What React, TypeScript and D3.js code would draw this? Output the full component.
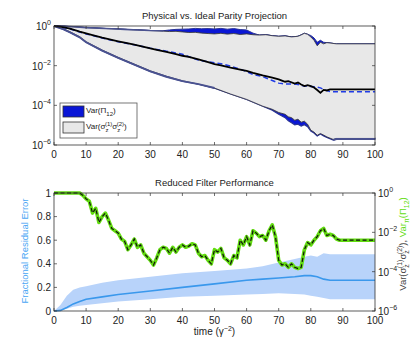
import React from "react";
import * as d3 from "d3";

// ---- top panel: log10 of the variances ----
const upperTime = [0, 3, 6, 10, 14, 18, 22, 26, 30, 34, 36, 38, 40, 42, 44, 46, 48, 50, 52, 54, 56, 58, 60, 62, 64, 66, 68, 70, 72, 74, 76, 77, 78, 79, 80, 81, 82, 83, 84, 85, 86, 88, 100];
const physUpper = [0, -0.01, -0.04, -0.08, -0.11, -0.14, -0.17, -0.2, -0.23, -0.26, -0.28, -0.27, -0.3, -0.33, -0.32, -0.36, -0.38, -0.4, -0.37, -0.41, -0.38, -0.43, -0.4, -0.44, -0.46, -0.44, -0.49, -0.52, -0.5, -0.55, -0.52, -0.45, -0.37, -0.42, -0.55, -0.72, -1.0, -0.82, -0.9, -0.84, -0.86, -0.9, -0.9];
const idealUpper = [0, -0.01, -0.04, -0.08, -0.11, -0.14, -0.17, -0.2, -0.23, -0.24, -0.2, -0.17, -0.16, -0.15, -0.12, -0.14, -0.13, -0.15, -0.12, -0.16, -0.13, -0.18, -0.2, -0.36, -0.46, -0.44, -0.49, -0.52, -0.5, -0.55, -0.52, -0.45, -0.37, -0.42, -0.48, -0.6, -0.82, -0.72, -0.82, -0.84, -0.86, -0.9, -0.9];

const lowerTime = [0, 3, 5, 8, 10, 15, 20, 25, 30, 35, 40, 45, 50, 55, 60, 65, 68, 70, 72, 73, 74, 75, 76, 77, 78, 79, 80, 81, 82, 83, 84, 85, 87, 88, 100];
const physLower = [0, -0.15, -0.29, -0.54, -0.79, -1.21, -1.58, -1.92, -2.26, -2.53, -2.76, -2.93, -3.13, -3.43, -3.7, -4.04, -4.2, -4.36, -4.45, -4.58, -4.62, -4.75, -4.7, -4.85, -4.8, -4.95, -5.25, -5.35, -5.51, -5.42, -5.5, -5.59, -5.72, -5.67, -5.67];
const idealLower = [0, -0.17, -0.32, -0.57, -0.82, -1.24, -1.61, -1.95, -2.29, -2.56, -2.78, -2.93, -3.13, -3.43, -3.7, -4.04, -4.25, -4.45, -4.62, -4.78, -4.88, -4.98, -4.95, -5.05, -4.98, -5.08, -5.3, -5.4, -5.55, -5.45, -5.55, -5.62, -5.75, -5.7, -5.7];

const meanTime = [0, 2, 5, 8, 10, 12, 15, 18, 20, 22, 25, 28, 30, 32, 35, 38, 40, 42, 45, 48, 50, 52, 55, 58, 60, 62, 65, 68, 70, 71, 72, 73, 75, 76, 77, 78, 79, 80, 81, 82, 83, 84, 85, 86, 88, 100];
const physMean = [0, -0.03, -0.13, -0.28, -0.37, -0.46, -0.59, -0.7, -0.77, -0.84, -0.94, -1.05, -1.13, -1.2, -1.3, -1.42, -1.5, -1.56, -1.68, -1.82, -1.92, -1.98, -2.1, -2.2, -2.26, -2.36, -2.49, -2.6, -2.69, -2.75, -2.81, -2.78, -2.9, -2.85, -2.95, -3.03, -2.98, -3.03, -3.1, -3.23, -3.37, -3.22, -3.25, -3.2, -3.2, -3.2];
const idealMean = [0, -0.03, -0.15, -0.3, -0.4, -0.48, -0.6, -0.72, -0.8, -0.86, -0.95, -1.05, -1.12, -1.18, -1.27, -1.36, -1.42, -1.55, -1.72, -1.8, -1.85, -1.9, -2.02, -2.18, -2.3, -2.45, -2.55, -2.75, -2.88, -2.9, -2.92, -2.93, -2.93, -2.95, -3.0, -3.03, -3.04, -3.05, -3.06, -3.08, -3.12, -3.2, -3.26, -3.3, -3.32, -3.32];

// ---- bottom panel ----
const varTime = [0, 8, 9, 10, 11, 12, 13, 14, 15, 16, 17, 18, 19, 20, 21, 22, 23, 24, 25, 26, 27, 28, 29, 30, 31, 32, 33, 34, 35, 36, 37, 38, 39, 40, 41, 42, 43, 44, 45, 46, 47, 48, 49, 50, 51, 52, 53, 54, 55, 56, 57, 58, 59, 60, 61, 62, 63, 64, 65, 66, 67, 68, 69, 70, 71, 72, 73, 74, 75, 76, 77, 78, 79, 80, 81, 82, 83, 84, 85, 86, 87, 88, 89, 100];
// log10 of the reduced-filter variance (right axis)
const varExp = [0, 0, -0.12, -0.3, -0.42, -1.02, -0.78, -1.5, -1.2, -1.02, -1.38, -1.8, -1.92, -2.04, -2.34, -2.46, -2.88, -2.64, -2.34, -2.76, -2.64, -3.06, -3.24, -3.42, -3.66, -3.3, -2.88, -2.76, -2.82, -3.06, -2.76, -3.0, -2.76, -2.64, -2.76, -2.7, -2.58, -2.64, -3.06, -3.24, -3.18, -3.42, -3.6, -2.88, -3.0, -2.82, -3.3, -3.42, -3.6, -3.18, -3.3, -2.4, -2.64, -2.22, -2.64, -1.92, -2.04, -2.22, -2.16, -2.4, -1.92, -1.62, -2.22, -3.42, -3.66, -3.6, -3.78, -3.6, -3.78, -3.84, -3.78, -2.88, -2.52, -2.64, -2.4, -2.22, -1.92, -1.8, -2.16, -2.1, -2.16, -2.34, -2.4, -2.4];

const errTime = [0, 2, 4, 6, 8, 10, 15, 20, 30, 40, 50, 60, 65, 70, 75, 78, 80, 82, 84, 86, 90, 100];
const errMean = [0, 0.005, 0.03, 0.06, 0.08, 0.1, 0.12, 0.14, 0.17, 0.2, 0.23, 0.26, 0.27, 0.28, 0.29, 0.3, 0.3, 0.29, 0.27, 0.26, 0.26, 0.26];
const errHigh = [0, 0.05, 0.13, 0.18, 0.2, 0.21, 0.24, 0.26, 0.29, 0.32, 0.34, 0.36, 0.38, 0.41, 0.44, 0.46, 0.47, 0.46, 0.49, 0.48, 0.48, 0.48];
const errLow = [0, 0.005, 0.02, 0.035, 0.045, 0.05, 0.065, 0.08, 0.1, 0.12, 0.13, 0.14, 0.145, 0.15, 0.145, 0.14, 0.13, 0.12, 0.11, 0.1, 0.1, 0.1];

const xTicks = [0, 10, 20, 30, 40, 50, 60, 70, 80, 90, 100];
const logTicks = [0, -2, -4, -6];
const errTicks = [0, 0.2, 0.4, 0.6, 0.8, 1];

const FONT = "'Liberation Sans', Arial, Helvetica, sans-serif";
const X0 = 54, X1 = 375;

const Pow = ({ e, x, y, anchor }: { e: number; x: number; y: number; anchor: string }) => (
  <text x={x} y={y} textAnchor={anchor} fontSize={10} fill="#222">
    10<tspan dy={-5} fontSize={7}>{e === 0 ? "0" : "\u2212" + Math.abs(e)}</tspan>
  </text>
);

export default function App() {
  const x = d3.scaleLinear().domain([0, 100]).range([X0, X1]);
  const yTop = d3.scaleLog().domain([1e-6, 1]).range([145, 26]);
  const yErr = d3.scaleLinear().domain([0, 1]).range([311, 193]);
  const yVar = d3.scaleLog().domain([1e-6, 1]).range([311, 193]);
  const p10 = (e: number) => Math.pow(10, e);

  const logBand = (t: number[], lo: number[], hi: number[]) =>
    d3.area<number>().x((d) => x(d)).y0((_, i) => yTop(p10(lo[i]))).y1((_, i) => yTop(p10(hi[i])))(t) || "";
  const logLine = (t: number[], v: number[], y: d3.ScaleLogarithmic<number, number>) =>
    d3.line<number>().x((d) => x(d)).y((_, i) => y(p10(v[i])))(t) || "";
  const topEdge = (t: number[], v: number[]) => logLine(t, v, yTop);

  const errBand = d3.area<number>().x((d) => x(d)).y0((_, i) => yErr(errLow[i])).y1((_, i) => yErr(errHigh[i]))(errTime) || "";
  const errLine = d3.line<number>().x((d) => x(d)).y((_, i) => yErr(errMean[i]))(errTime) || "";
  const varLine = logLine(varTime, varExp, yVar);

  // gray physical band: upper edge forward, lower edge back
  const grayBand =
    topEdge(upperTime, physUpper) +
    "L" +
    topEdge(lowerTime.slice().reverse(), physLower.slice().reverse()).slice(1) +
    "Z";

  const frame = (y0: number, y1: number) => (
    <rect x={X0} y={y0} width={X1 - X0} height={y1 - y0} fill="none" stroke="#333" strokeWidth={0.8} />
  );

  return (
    <svg width={415} height={350} style={{ position: "absolute", left: 0, top: 0, background: "#fff" }} fontFamily={FONT}>
      {/* ---------- top panel ---------- */}
      <text x={214.5} y={19} textAnchor="middle" fontSize={9.5} fill="#222">Physical vs. Ideal Parity Projection</text>
      <path d={logBand(upperTime, physUpper, idealUpper)} fill="#0a16d6" stroke="#2a3496" strokeWidth={1} />
      <path d={logBand(lowerTime, idealLower, physLower)} fill="#0a16d6" stroke="#2a3496" strokeWidth={1.2} />
      <path d={grayBand} fill="#e8e8e8" stroke="none" />
      <path d={topEdge(upperTime, physUpper)} fill="none" stroke="#2e2e3e" strokeWidth={0.8} />
      <path d={topEdge(lowerTime, physLower)} fill="none" stroke="#2e2e3e" strokeWidth={0.8} />
      <path d={topEdge(upperTime.slice(0, 10), idealUpper.slice(0, 10))} fill="none" stroke="#4a5290" strokeWidth={1.6} />
      <path d={topEdge(lowerTime.slice(0, 13), idealLower.slice(0, 13))} fill="none" stroke="#4a5290" strokeWidth={2} />
      <path d={topEdge(lowerTime.slice(32), idealLower.slice(32))} fill="none" stroke="#4a5290" strokeWidth={2} />
      <path d={topEdge(meanTime, idealMean)} fill="none" stroke="#1f3be6" strokeWidth={1.5} strokeDasharray="5,3" />
      <path d={topEdge(meanTime, physMean)} fill="none" stroke="#000" strokeWidth={1.8} />
      {frame(26, 145)}
      {xTicks.map((t) => (
        <g key={"tx" + t}>
          <line x1={x(t)} x2={x(t)} y1={145} y2={142} stroke="#333" strokeWidth={0.7} />
          <line x1={x(t)} x2={x(t)} y1={26} y2={29} stroke="#333" strokeWidth={0.7} />
          <text x={x(t)} y={158} textAnchor="middle" fontSize={10} fill="#222">{t}</text>
        </g>
      ))}
      {logTicks.map((e) => (
        <g key={"ty" + e}>
          <line x1={X0} x2={X0 + 3} y1={yTop(p10(e))} y2={yTop(p10(e))} stroke="#333" strokeWidth={0.7} />
          <line x1={X1} x2={X1 - 3} y1={yTop(p10(e))} y2={yTop(p10(e))} stroke="#333" strokeWidth={0.7} />
          <Pow e={e} x={51} y={yTop(p10(e)) + 4} anchor="end" />
        </g>
      ))}
      {/* legend */}
      <g fontSize={8} fill="#222">
        <rect x={60} y={103} width={77} height={35} fill="#fff" stroke="#555" strokeWidth={0.8} />
        <rect x={63} y={106} width={21} height={11} fill="#0a16d6" stroke="#333" strokeWidth={0.8} />
        <rect x={63} y={122} width={21} height={11} fill="#e8e8e8" stroke="#333" strokeWidth={0.8} />
        <text x={86} y={113}>
          Var(Π<tspan dy={3} fontSize={6}>12</tspan><tspan dy={-3}>)</tspan>
        </text>
        <text x={86} y={129}>
          Var(σ<tspan dy={2.5} fontSize={6}>z</tspan><tspan dx={-3.5} dy={-6} fontSize={6}>(1)</tspan>
          <tspan dy={3.5}>σ</tspan><tspan dy={2.5} fontSize={6}>z</tspan><tspan dx={-3.5} dy={-6} fontSize={6}>(2)</tspan>
          <tspan dy={3.5}>)</tspan>
        </text>
      </g>

      {/* ---------- bottom panel ---------- */}
      <text x={214.5} y={186} textAnchor="middle" fontSize={9.5} fill="#222">Reduced Filter Performance</text>
      <path d={errBand} fill="#b8d3fa" />
      <path d={errLine} fill="none" stroke="#3a98ec" strokeWidth={1.6} />
      <path d={varLine} fill="none" stroke="#62dc10" strokeWidth={3.6} strokeLinejoin="round" />
      <path d={varLine} fill="none" stroke="#111" strokeWidth={1.2} strokeDasharray="4,2.5" />
      {frame(193, 311)}
      {xTicks.map((t) => (
        <g key={"bx" + t}>
          <line x1={x(t)} x2={x(t)} y1={311} y2={308} stroke="#333" strokeWidth={0.7} />
          <line x1={x(t)} x2={x(t)} y1={193} y2={196} stroke="#333" strokeWidth={0.7} />
          <text x={x(t)} y={324} textAnchor="middle" fontSize={10} fill="#222">{t}</text>
        </g>
      ))}
      {errTicks.map((v) => (
        <g key={"by" + v}>
          <line x1={X0} x2={X0 + 3} y1={yErr(v)} y2={yErr(v)} stroke="#333" strokeWidth={0.7} />
          <text x={51} y={yErr(v) + 3.5} textAnchor="end" fontSize={10} fill="#222">{String(v)}</text>
        </g>
      ))}
      {logTicks.map((e) => (
        <g key={"br" + e}>
          <line x1={X1} x2={X1 - 3} y1={yVar(p10(e))} y2={yVar(p10(e))} stroke="#333" strokeWidth={0.7} />
          <Pow e={e} x={378} y={yVar(p10(e)) + 4} anchor="start" />
        </g>
      ))}
      <text transform="translate(28,251) rotate(-90)" textAnchor="middle" fontSize={9.5} fill="#4aa6f4">Fractional Residual Error</text>
      <text transform="translate(406,244) rotate(-90)" textAnchor="middle" fontSize={9.5} fill="#444">
        Var(σ<tspan dy={2.5} fontSize={7}>z</tspan><tspan dx={-4} dy={-7} fontSize={7}>(1)</tspan>
        <tspan dy={4.5}>σ</tspan><tspan dy={2.5} fontSize={7}>z</tspan><tspan dx={-4} dy={-7} fontSize={7}>(2)</tspan>
        <tspan dy={4.5}>), </tspan>
        <tspan fill="#62dc10">Var</tspan><tspan fill="#62dc10" dy={2.5} fontSize={7}>π</tspan>
        <tspan fill="#62dc10" dy={-2.5}>(Π</tspan><tspan fill="#62dc10" dy={2.5} fontSize={7}>12</tspan>
        <tspan fill="#62dc10" dy={-2.5}>)</tspan>
      </text>
      <text x={214.5} y={335} textAnchor="middle" fontSize={10} fill="#222">
        time (γ<tspan dy={-4} fontSize={7}>−2</tspan><tspan dy={4}>)</tspan>
      </text>
    </svg>
  );
}
